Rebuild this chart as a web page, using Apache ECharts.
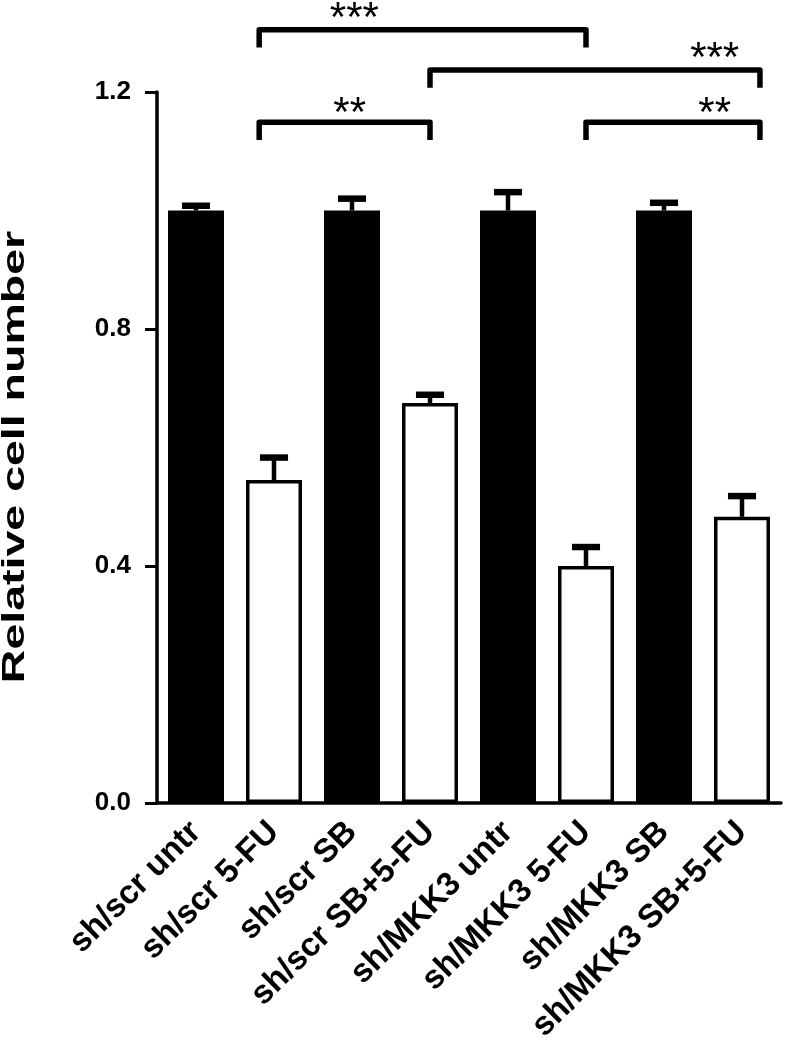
<!DOCTYPE html>
<html>
<head>
<meta charset="utf-8">
<script src="https://cdn.jsdelivr.net/npm/echarts@6/dist/echarts.min.js"></script>
<style>
  html, body { margin: 0; padding: 0; background: #fff; }
  #chart { width: 787px; height: 1045px; }
</style>
</head>
<body>
<div id="chart"></div>
<script>
const categories = [
  "sh/scr untr", "sh/scr 5-FU", "sh/scr SB", "sh/scr SB+5-FU",
  "sh/MKK3 untr", "sh/MKK3 5-FU", "sh/MKK3 SB", "sh/MKK3 SB+5-FU"
];
const means = [1.0, 0.545, 1.0, 0.675, 1.0, 0.40, 1.0, 0.483];
const errors = [0.008, 0.038, 0.020, 0.014, 0.031, 0.032, 0.013, 0.035];
const filled = [true, false, true, false, true, false, true, false];

// significance brackets (positions in category units from the first bar)
const bracketFrom = [0.81, 3, 0.81, 5];
const bracketTo = [5, 7.23, 3, 7.23];
const bracketLevel = [1.305, 1.237, 1.149, 1.149];
const bracketText = ["***", "***", "**", "**"];
const bracketTextPos = [2.03, 6.65, 1.97, 6.65];
const bracketTextLevel = [1.322, 1.255, 1.162, 1.162];

const FONT = "'Liberation Sans', Arial, sans-serif";

const chart = echarts.init(document.getElementById("chart"));

const barData = means.map((v, i) => ({
  value: v,
  itemStyle: filled[i]
    ? { color: "#000", borderColor: "#000", borderWidth: 0 }
    : { color: "#fff", borderColor: "#000", borderWidth: 3.5 }
}));

const errData = means.map((v, i) => [i, v, errors[i]]);
const bracketData = bracketFrom.map((f, i) => [0, f, bracketTo[i], bracketLevel[i], bracketTextPos[i], bracketTextLevel[i], i]);

chart.setOption({
  animation: false,
  backgroundColor: "#fff",
  grid: { left: 157, right: 6, top: 92, bottom: 242 },
  xAxis: {
    type: "category",
    data: categories,
    axisLine: { lineStyle: { color: "#000", width: 3.5 } },
    axisTick: { alignWithLabel: true, length: 12, lineStyle: { color: "#000", width: 3 } },
    axisLabel: {
      interval: 0,
      rotate: 45,
      margin: 24,
      color: "#000",
      fontSize: 33,
      fontWeight: "bold",
      fontFamily: FONT
    }
  },
  yAxis: {
    type: "value",
    min: 0,
    max: 1.2,
    interval: 0.4,
    splitLine: { show: false },
    axisLine: { show: true, lineStyle: { color: "#000", width: 3.5 } },
    axisTick: { show: true, length: 12, lineStyle: { color: "#000", width: 3 } },
    axisLabel: {
      margin: 26,
      color: "#000",
      fontSize: 26,
      fontWeight: "bold",
      fontFamily: FONT,
      formatter: (v) => v.toFixed(1)
    }
  },
  graphic: [
    {
      type: "text",
      x: 15,
      y: 457,
      rotation: Math.PI / 2,
      scaleX: 1.5,
      style: {
        text: "Relative cell number",
        font: "bold 31px " + FONT,
        fill: "#000",
        align: "center",
        verticalAlign: "middle"
      }
    }
  ],
  series: [
    {
      type: "bar",
      data: barData,
      barWidth: 56,
      z: 2
    },
    {
      type: "custom",
      data: errData,
      z: 3,
      renderItem: (params, api) => {
        const i = api.value(0);
        const top = api.coord([i, api.value(1)]);
        const end = api.coord([i, api.value(1) + api.value(2)]);
        const half = api.size([1, 0])[0] * 0.18;
        return {
          type: "group",
          children: [
            { type: "line", shape: { x1: top[0], y1: top[1], x2: end[0], y2: end[1] }, style: { stroke: "#000", lineWidth: 4.5 } },
            { type: "line", shape: { x1: end[0] - half, y1: end[1], x2: end[0] + half, y2: end[1] }, style: { stroke: "#000", lineWidth: 6.5 } }
          ]
        };
      }
    },
    {
      type: "custom",
      data: bracketData,
      z: 4,
      clip: false,
      renderItem: (params, api) => {
        const base = api.coord([0, api.value(3)]);
        const band = api.size([1, 0])[0];
        const drop = api.coord([0, api.value(3) - 0.03])[1];
        const x1 = base[0] + api.value(1) * band;
        const x2 = base[0] + api.value(2) * band;
        const tx = base[0] + api.value(4) * band;
        const ty = api.coord([0, api.value(5)])[1];
        return {
          type: "group",
          children: [
            {
              type: "polyline",
              shape: { points: [[x1, drop], [x1, base[1]], [x2, base[1]], [x2, drop]] },
              style: { stroke: "#000", lineWidth: 5.5, fill: null, lineJoin: "round" }
            },
            {
              type: "text",
              x: tx,
              y: ty,
              style: {
                text: bracketText[api.value(6)],
                font: "normal 42px " + FONT,
                fill: "#000",
                align: "center",
                verticalAlign: "middle"
              }
            }
          ]
        };
      }
    }
  ]
});
</script>
</body>
</html>
